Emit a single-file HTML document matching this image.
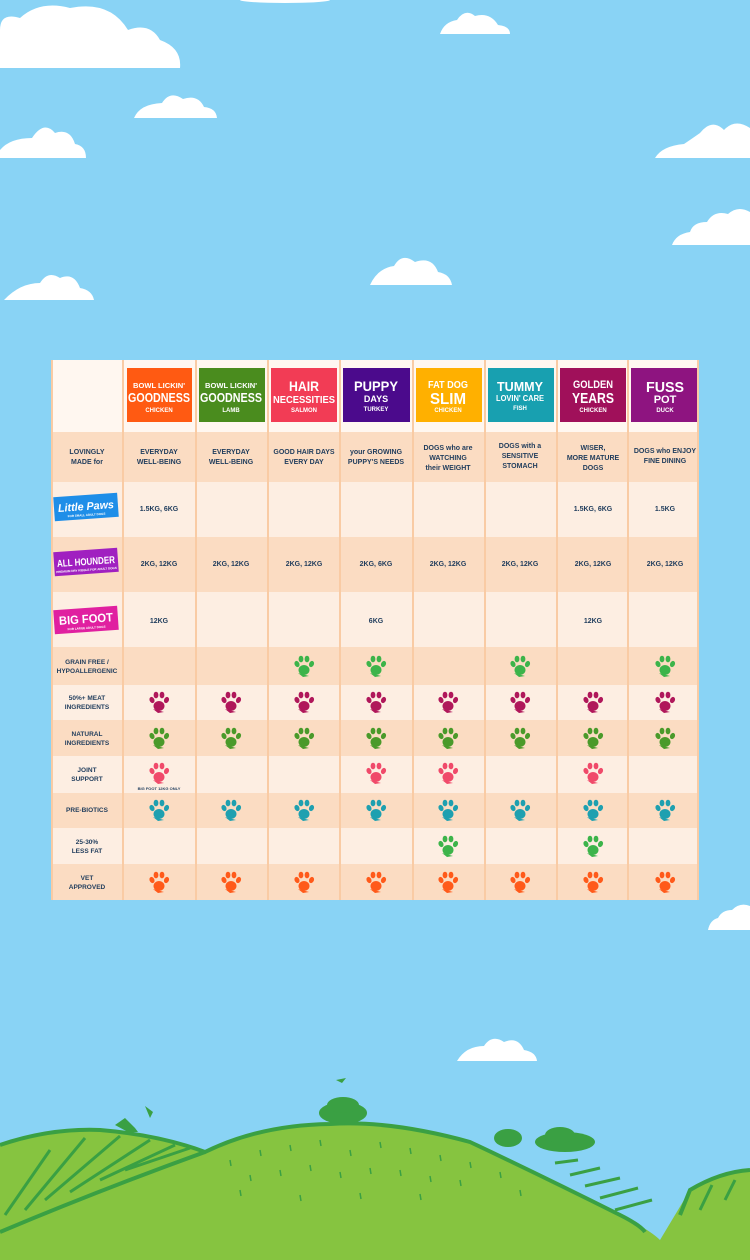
<!DOCTYPE html>
<html><head><meta charset="utf-8"><style>
html,body{margin:0;padding:0;background:#89d3f5;}
svg{display:block}
text{font-family:"Liberation Sans",sans-serif;font-weight:bold;}
</style></head><body>
<svg width="750" height="1260" viewBox="0 0 750 1260" xmlns="http://www.w3.org/2000/svg">
<defs>
<g id="paw">
<ellipse cx="0" cy="3" rx="5.5" ry="5"/>
<ellipse cx="-7" cy="-3" rx="2.4" ry="3.2" transform="rotate(-25 -7 -3)"/>
<ellipse cx="-3" cy="-8" rx="2.4" ry="3.3"/>
<ellipse cx="3" cy="-8" rx="2.4" ry="3.3"/>
<ellipse cx="7.5" cy="-3" rx="2.4" ry="3.2" transform="rotate(25 7.5 -3)"/>
<path d="M-6 6 L-1 10 L5 9 Z"/>
</g>
</defs>
<rect width="750" height="1260" fill="#89d3f5"/>
<!-- clouds -->
<g fill="#fff">
<path d="M0 68 L180 68 Q182 48 160 40 Q150 22 128 30 Q110 0 70 8 Q40 0 20 18 Q0 12 0 30 Z"/>
<path d="M440 34 L510 34 Q510 26 498 25 Q490 12 475 16 Q465 8 457 20 Q444 22 440 34Z"/>
<path d="M134 118 L217 118 Q216 108 204 107 Q198 94 183 99 Q170 90 162 103 Q140 104 134 118Z"/>
<path d="M0 158 L86 158 Q86 146 75 144 Q70 128 55 133 Q44 120 32 138 Q10 138 0 150Z"/>
<path d="M655 158 L750 158 L750 128 Q735 118 724 130 Q712 118 700 133 Q690 140 684 144 Q662 146 655 158Z"/>
<path d="M672 245 L750 245 L750 212 Q738 205 728 214 Q714 210 707 222 Q693 222 690 232 Q676 234 672 245Z"/>
<path d="M370 285 L452 285 Q450 274 438 272 Q432 256 415 262 Q402 252 394 266 Q378 268 370 285Z"/>
<path d="M4 300 L94 300 Q92 290 80 288 Q74 272 60 278 Q48 270 40 283 Q20 283 4 300Z"/>
<path d="M457 1061 L537 1061 Q536 1052 524 1050 Q518 1036 504 1042 Q492 1034 484 1046 Q466 1046 457 1061Z"/>
<path d="M708 930 L750 930 L750 906 Q740 902 732 910 Q722 910 718 918 Q710 920 708 930Z"/>
<ellipse cx="285" cy="0" rx="45" ry="3"/>
</g>
<!-- hills -->
<path d="M0 1145 Q50 1128 100 1130 Q160 1135 205 1152 Q260 1125 330 1124 Q390 1120 470 1142 Q540 1175 620 1215 Q650 1230 660 1240 L690 1190 Q720 1172 750 1170 L750 1260 L0 1260Z" fill="#86c440"/>
<path d="M0 1145 Q50 1128 100 1130 Q160 1135 205 1152 Q260 1125 330 1124 Q390 1120 470 1142 Q540 1175 620 1215 Q640 1225 645 1232" fill="none" stroke="#3aa043" stroke-width="4"/>
<path d="M0 1232 Q100 1190 205 1152 M680 1215 L690 1190 Q720 1172 750 1170" fill="none" stroke="#3aa043" stroke-width="4"/>
<g stroke="#3aa043" stroke-width="3" fill="none">
<path d="M5 1215 L50 1150 M25 1210 L85 1138 M45 1200 L120 1136 M70 1192 L150 1140 M100 1180 L175 1145 M125 1170 L190 1148 M555 1163 L578 1160 M570 1175 L600 1168 M585 1186 L620 1178 M600 1198 L638 1188 M615 1210 L652 1200 M700 1210 L712 1185 M725 1200 L735 1180"/>
</g>
<g fill="#3aa043">
<ellipse cx="343" cy="1113" rx="24" ry="11"/><ellipse cx="343" cy="1105" rx="16" ry="8"/><ellipse cx="508" cy="1138" rx="14" ry="9"/><ellipse cx="565" cy="1142" rx="30" ry="10"/><ellipse cx="560" cy="1135" rx="15" ry="8"/>
<path d="M115 1125 L125 1118 L135 1128 L138 1132 L128 1132Z M145 1106 L150 1118 L153 1112Z M336 1080 L342 1083 L346 1078Z"/>
</g>
<g stroke="#3aa043" stroke-width="1.5">
<path d="M230 1160 l1 6 M260 1150 l1 6 M290 1145 l1 6 M320 1140 l1 6 M350 1150 l1 6 M380 1142 l1 6 M410 1148 l1 6 M440 1155 l1 6 M470 1162 l1 6 M250 1175 l1 6 M280 1170 l1 6 M310 1165 l1 6 M340 1172 l1 6 M370 1168 l1 6 M400 1170 l1 6 M430 1176 l1 6 M460 1180 l1 6 M500 1172 l1 6 M520 1190 l1 6 M240 1190 l1 6 M300 1195 l1 6 M360 1193 l1 6 M420 1194 l1 6"/>
</g>

<!-- table -->
<g>
<rect x="51" y="360" width="648" height="540" fill="#fdeee2"/>
<rect x="51" y="360" width="648" height="72" fill="#fff7f0"/>
<rect x="51" y="432" width="648" height="50" fill="#fbdcc2"/>
<rect x="51" y="537" width="648" height="55" fill="#fbdcc2"/>
<rect x="51" y="647" width="648" height="38" fill="#fbdcc2"/>
<rect x="51" y="720" width="648" height="36" fill="#fbdcc2"/>
<rect x="51" y="793" width="648" height="35" fill="#fbdcc2"/>
<rect x="51" y="864" width="648" height="36" fill="#fbdcc2"/>
<g stroke="#f9cba4" stroke-width="2">
<line x1="52" y1="360" x2="52" y2="900"/><line x1="123" y1="360" x2="123" y2="900"/><line x1="196" y1="360" x2="196" y2="900"/><line x1="268" y1="360" x2="268" y2="900"/><line x1="340" y1="360" x2="340" y2="900"/><line x1="413" y1="360" x2="413" y2="900"/><line x1="485" y1="360" x2="485" y2="900"/><line x1="557" y1="360" x2="557" y2="900"/><line x1="628" y1="360" x2="628" y2="900"/><line x1="698" y1="360" x2="698" y2="900"/>
</g>
</g>
<!-- header boxes -->
<g>
<rect x="127" y="368" width="65" height="54" fill="#ff5a12"/>
<rect x="199" y="368" width="66" height="54" fill="#4a8c1e"/>
<rect x="271" y="368" width="66" height="54" fill="#f23c55"/>
<rect x="343" y="368" width="67" height="54" fill="#4b0a8c"/>
<rect x="416" y="368" width="66" height="54" fill="#ffb000"/>
<rect x="488" y="368" width="66" height="54" fill="#18a0b0"/>
<rect x="560" y="368" width="66" height="54" fill="#a0105a"/>
<rect x="631" y="368" width="66" height="54" fill="#8e1480"/>
</g>
<g fill="#fff" text-anchor="middle">
<text x="159" y="388" font-size="7" textLength="52" lengthAdjust="spacingAndGlyphs">BOWL LICKIN'</text><text x="159" y="402" font-size="13" textLength="62" lengthAdjust="spacingAndGlyphs">GOODNESS</text><text x="159" y="412" font-size="6">CHICKEN</text>
<text x="231" y="388" font-size="7" textLength="52" lengthAdjust="spacingAndGlyphs">BOWL LICKIN'</text><text x="231" y="402" font-size="13" textLength="62" lengthAdjust="spacingAndGlyphs">GOODNESS</text><text x="231" y="412" font-size="6">LAMB</text>
<text x="304" y="391" font-size="14" textLength="30" lengthAdjust="spacingAndGlyphs">HAIR</text><text x="304" y="403" font-size="10" textLength="62" lengthAdjust="spacingAndGlyphs">NECESSITIES</text><text x="304" y="412" font-size="6">SALMON</text>
<text x="376" y="391" font-size="14" textLength="44" lengthAdjust="spacingAndGlyphs">PUPPY</text><text x="376" y="402" font-size="9">DAYS</text><text x="376" y="411" font-size="6">TURKEY</text>
<text x="448" y="388" font-size="10" textLength="40" lengthAdjust="spacingAndGlyphs">FAT DOG</text><text x="448" y="404" font-size="16" textLength="36" lengthAdjust="spacingAndGlyphs">SLIM</text><text x="448" y="412" font-size="6">CHICKEN</text>
<text x="520" y="391" font-size="13" textLength="46" lengthAdjust="spacingAndGlyphs">TUMMY</text><text x="520" y="401" font-size="8" textLength="48" lengthAdjust="spacingAndGlyphs">LOVIN' CARE</text><text x="520" y="410" font-size="6">FISH</text>
<text x="593" y="388" font-size="11" textLength="40" lengthAdjust="spacingAndGlyphs">GOLDEN</text><text x="593" y="403" font-size="15" textLength="42" lengthAdjust="spacingAndGlyphs">YEARS</text><text x="593" y="412" font-size="6">CHICKEN</text>
<text x="665" y="392" font-size="15" textLength="38" lengthAdjust="spacingAndGlyphs">FUSS</text><text x="665" y="403" font-size="11">POT</text><text x="665" y="412" font-size="6">DUCK</text>
</g>
<!-- row labels -->
<g fill="#1f3c5c" font-size="7" text-anchor="middle">
<text x="87" y="454">LOVINGLY</text><text x="87" y="464">MADE for</text>
<text x="159" y="454">EVERYDAY</text><text x="159" y="464">WELL-BEING</text>
<text x="231" y="454">EVERYDAY</text><text x="231" y="464">WELL-BEING</text>
<text x="304" y="454">GOOD HAIR DAYS</text><text x="304" y="464">EVERY DAY</text>
<text x="376" y="454">your GROWING</text><text x="376" y="464">PUPPY'S NEEDS</text>
<text x="448" y="450">DOGS who are</text><text x="448" y="460">WATCHING</text><text x="448" y="470">their WEIGHT</text>
<text x="520" y="448">DOGS with a</text><text x="520" y="458">SENSITIVE</text><text x="520" y="468">STOMACH</text>
<text x="593" y="450">WISER,</text><text x="593" y="460">MORE MATURE</text><text x="593" y="470">DOGS</text>
<text x="665" y="453">DOGS who ENJOY</text><text x="665" y="463">FINE DINING</text>
<text x="159" y="511">1.5KG, 6KG</text><text x="593" y="511">1.5KG, 6KG</text><text x="665" y="511">1.5KG</text>
<text x="159" y="566">2KG, 12KG</text><text x="231" y="566">2KG, 12KG</text><text x="304" y="566">2KG, 12KG</text><text x="376" y="566">2KG, 6KG</text><text x="448" y="566">2KG, 12KG</text><text x="520" y="566">2KG, 12KG</text><text x="593" y="566">2KG, 12KG</text><text x="665" y="566">2KG, 12KG</text>
<text x="159" y="623">12KG</text><text x="376" y="623">6KG</text><text x="593" y="623">12KG</text>
<text x="87" y="664" font-size="6.5">GRAIN FREE /</text><text x="87" y="673" font-size="6.5">HYPOALLERGENIC</text>
<text x="87" y="700" font-size="6.5">50%+ MEAT</text><text x="87" y="709" font-size="6.5">INGREDIENTS</text>
<text x="87" y="736" font-size="6.5">NATURAL</text><text x="87" y="745" font-size="6.5">INGREDIENTS</text>
<text x="87" y="772" font-size="6.5">JOINT</text><text x="87" y="781" font-size="6.5">SUPPORT</text>
<text x="87" y="812" font-size="6.5">PRE-BIOTICS</text>
<text x="87" y="844" font-size="6.5">25-30%</text><text x="87" y="853" font-size="6.5">LESS FAT</text>
<text x="87" y="880" font-size="6.5">VET</text><text x="87" y="889" font-size="6.5">APPROVED</text>
<text x="159" y="790" font-size="4">BIG FOOT 12KG ONLY</text>
</g>
<!-- size badges -->
<g transform="rotate(-4 86 507)"><rect x="54" y="495" width="64" height="24" fill="#1e8ee8"/><text x="86" y="510" fill="#fff" font-size="11" text-anchor="middle" font-style="italic" textLength="56" lengthAdjust="spacingAndGlyphs">Little Paws</text><text x="86" y="516" fill="#fff" font-size="3" text-anchor="middle">FOR SMALL ADULT DOGS</text></g>
<g transform="rotate(-4 86 562)"><rect x="54" y="550" width="64" height="24" fill="#a020c0"/><text x="86" y="565" fill="#fff" font-size="10" text-anchor="middle" textLength="58" lengthAdjust="spacingAndGlyphs">ALL HOUNDER</text><text x="86" y="571" fill="#fff" font-size="3" text-anchor="middle">PREMIUM DRY KIBBLE FOR ADULT DOGS</text></g>
<g transform="rotate(-4 86 620)"><rect x="54" y="608" width="64" height="24" fill="#e020a0"/><text x="86" y="623" fill="#fff" font-size="12" text-anchor="middle" textLength="54" lengthAdjust="spacingAndGlyphs">BIG FOOT</text><text x="86" y="629" fill="#fff" font-size="3" text-anchor="middle">FOR LARGE ADULT DOGS</text></g>
<!-- paws -->
<g fill="#3cb44a"><use href="#paw" x="304" y="667"/><use href="#paw" x="376" y="667"/><use href="#paw" x="520" y="667"/><use href="#paw" x="665" y="667"/></g>
<g fill="#b0175a"><use href="#paw" x="159" y="703"/><use href="#paw" x="231" y="703"/><use href="#paw" x="304" y="703"/><use href="#paw" x="376" y="703"/><use href="#paw" x="448" y="703"/><use href="#paw" x="520" y="703"/><use href="#paw" x="593" y="703"/><use href="#paw" x="665" y="703"/></g>
<g fill="#4a9a2a"><use href="#paw" x="159" y="739"/><use href="#paw" x="231" y="739"/><use href="#paw" x="304" y="739"/><use href="#paw" x="376" y="739"/><use href="#paw" x="448" y="739"/><use href="#paw" x="520" y="739"/><use href="#paw" x="593" y="739"/><use href="#paw" x="665" y="739"/></g>
<g fill="#f04a6a"><use href="#paw" x="159" y="774"/><use href="#paw" x="376" y="774"/><use href="#paw" x="448" y="774"/><use href="#paw" x="593" y="774"/></g>
<g fill="#1ea0b0"><use href="#paw" x="159" y="811"/><use href="#paw" x="231" y="811"/><use href="#paw" x="304" y="811"/><use href="#paw" x="376" y="811"/><use href="#paw" x="448" y="811"/><use href="#paw" x="520" y="811"/><use href="#paw" x="593" y="811"/><use href="#paw" x="665" y="811"/></g>
<g fill="#3cb44a"><use href="#paw" x="448" y="847"/><use href="#paw" x="593" y="847"/></g>
<g fill="#ff5a1a"><use href="#paw" x="159" y="883"/><use href="#paw" x="231" y="883"/><use href="#paw" x="304" y="883"/><use href="#paw" x="376" y="883"/><use href="#paw" x="448" y="883"/><use href="#paw" x="520" y="883"/><use href="#paw" x="593" y="883"/><use href="#paw" x="665" y="883"/></g>
</svg>
</body></html>
